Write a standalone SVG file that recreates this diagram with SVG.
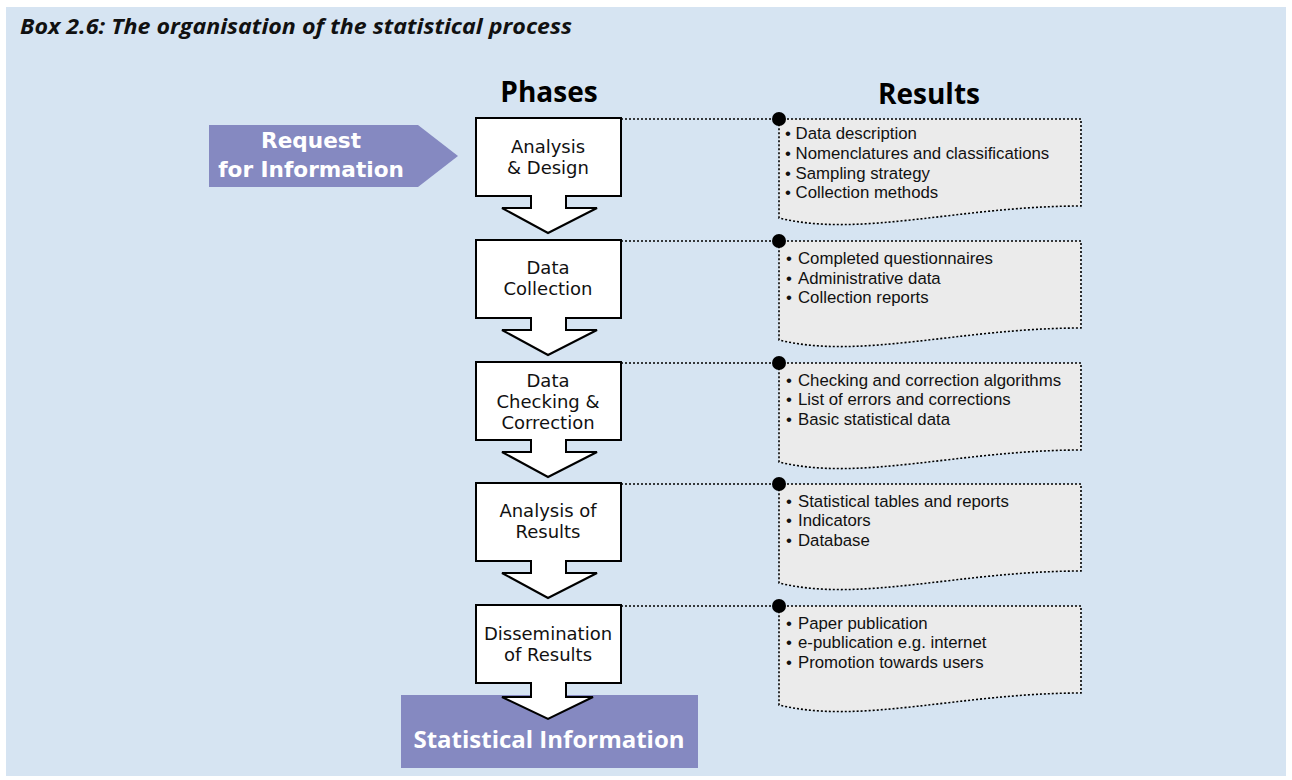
<svg xmlns="http://www.w3.org/2000/svg" width="1292" height="780" viewBox="0 0 1292 780">
  <defs>
    <style>
      .title { font-family: "Open Sans", "Liberation Sans", sans-serif; font-weight: bold; font-style: italic; font-size: 22px; fill: #111; }
      .head { font-family: "Open Sans", "Liberation Sans", sans-serif; font-weight: bold; font-size: 28px; fill: #000; text-anchor: middle; }
      .band { font-family: "Open Sans", "Liberation Sans", sans-serif; font-weight: bold; font-size: 24px; fill: #fff; text-anchor: middle; }
      .band2 { font-family: "DejaVu Sans", "Liberation Sans", sans-serif; font-weight: bold; font-size: 21.6px; fill: #fff; text-anchor: middle; }
      .phase-shape { fill: #fff; stroke: #000; stroke-width: 2; stroke-linejoin: miter; }
      .phase-text { font-family: "DejaVu Sans", "Liberation Sans", sans-serif; font-size: 18px; fill: #111; text-anchor: middle; }
      .result-shape { fill: #ebebeb; stroke: #000; stroke-width: 1.6; stroke-dasharray: 2 2; }
      .result-text { font-family: "Liberation Sans", Arial, sans-serif; font-size: 16.8px; fill: #111; }
      .link { stroke: #000; stroke-width: 1.6; stroke-dasharray: 2 2; fill: none; }
      .dot { fill: #000; }
    </style>
  </defs>

  <!-- panel -->
  <rect x="0" y="0" width="1292" height="780" fill="#ffffff"/>
  <rect x="6" y="7" width="1280" height="769" fill="#d6e4f2"/>

  <text class="title" x="20" y="34" textLength="552" lengthAdjust="spacingAndGlyphs">Box 2.6: The organisation of the statistical process</text>

  <text class="head" x="549" y="102">Phases</text>
  <text class="head" x="929" y="104">Results</text>

  <!-- input arrow -->
  <g id="request">
    <polygon points="209,125 418,125 458,156 418,187 209,187" fill="#8589c1"/>
    <text class="band2" x="311" y="148">Request</text>
    <text class="band2" x="311" y="177">for Information</text>
  </g>

  <!-- output band -->
  <g id="statistical-information">
    <rect x="401" y="695" width="297" height="73" fill="#8589c1"/>
    <text class="band" x="549" y="748">Statistical Information</text>
  </g>

  <!-- connectors from phases to results -->
  <g id="connectors">
    <line class="link" x1="621" y1="119" x2="779" y2="119"/>
    <line class="link" x1="621" y1="241" x2="779" y2="241"/>
    <line class="link" x1="621" y1="363" x2="779" y2="363"/>
    <line class="link" x1="621" y1="484" x2="779" y2="484"/>
    <line class="link" x1="621" y1="606" x2="779" y2="606"/>
  </g>

  <!-- phases -->
  <g id="phase-analysis-design">
    <polygon class="phase-shape" points="476,118 621,118 621,196 566,196 566,208 597,208 548,233 502,208 531,208 531,196 476,196"/>
    <text class="phase-text" x="548" y="153">Analysis</text>
    <text class="phase-text" x="548" y="174">&amp; Design</text>
  </g>
  <g id="phase-data-collection">
    <polygon class="phase-shape" points="476,240 621,240 621,318 566,318 566,330 597,330 548,355 502,330 531,330 531,318 476,318"/>
    <text class="phase-text" x="548" y="274">Data</text>
    <text class="phase-text" x="548" y="295">Collection</text>
  </g>
  <g id="phase-data-checking">
    <polygon class="phase-shape" points="476,362 621,362 621,440 566,440 566,452 597,452 548,477 502,452 531,452 531,440 476,440"/>
    <text class="phase-text" x="548" y="387">Data</text>
    <text class="phase-text" x="548" y="408">Checking &amp;</text>
    <text class="phase-text" x="548" y="429">Correction</text>
  </g>
  <g id="phase-analysis-results">
    <polygon class="phase-shape" points="476,483 621,483 621,561 566,561 566,573 597,573 548,598 502,573 531,573 531,561 476,561"/>
    <text class="phase-text" x="548" y="517">Analysis of</text>
    <text class="phase-text" x="548" y="538">Results</text>
  </g>
  <g id="phase-dissemination">
    <polygon class="phase-shape" points="476,605 621,605 621,683 566,683 566,697 593,697 548,719 502,697 531,697 531,683 476,683"/>
    <text class="phase-text" x="548" y="640">Dissemination</text>
    <text class="phase-text" x="548" y="661">of Results</text>
  </g>

  <!-- results -->
  <g id="result-analysis-design">
    <path class="result-shape" d="M779,119 H1081 V206 C960,206 860,238 779,218 Z"/>
    <circle class="dot" cx="779" cy="119" r="7"/>
    <text class="result-text" x="785" y="139">• Data description</text>
    <text class="result-text" x="785" y="159">• Nomenclatures and classifications</text>
    <text class="result-text" x="785" y="179">• Sampling strategy</text>
    <text class="result-text" x="785" y="198">• Collection methods</text>
  </g>
  <g id="result-data-collection">
    <path class="result-shape" d="M779,241 H1081 V328 C960,328 860,360 779,340 Z"/>
    <circle class="dot" cx="779" cy="241" r="7"/>
    <text class="result-text" y="264"><tspan x="786">•</tspan><tspan x="798">Completed questionnaires</tspan></text>
    <text class="result-text" y="284"><tspan x="786">•</tspan><tspan x="798">Administrative data</tspan></text>
    <text class="result-text" y="303"><tspan x="786">•</tspan><tspan x="798">Collection reports</tspan></text>
  </g>
  <g id="result-data-checking">
    <path class="result-shape" d="M779,363 H1081 V450 C960,450 860,482 779,462 Z"/>
    <circle class="dot" cx="779" cy="363" r="7"/>
    <text class="result-text" y="386"><tspan x="786">•</tspan><tspan x="798">Checking and correction algorithms</tspan></text>
    <text class="result-text" y="405"><tspan x="786">•</tspan><tspan x="798">List of errors and corrections</tspan></text>
    <text class="result-text" y="425"><tspan x="786">•</tspan><tspan x="798">Basic statistical data</tspan></text>
  </g>
  <g id="result-analysis-results">
    <path class="result-shape" d="M779,484 H1081 V571 C960,571 860,603 779,583 Z"/>
    <circle class="dot" cx="779" cy="484" r="7"/>
    <text class="result-text" y="507"><tspan x="786">•</tspan><tspan x="798">Statistical tables and reports</tspan></text>
    <text class="result-text" y="526"><tspan x="786">•</tspan><tspan x="798">Indicators</tspan></text>
    <text class="result-text" y="546"><tspan x="786">•</tspan><tspan x="798">Database</tspan></text>
  </g>
  <g id="result-dissemination">
    <path class="result-shape" d="M779,606 H1081 V693 C960,693 860,725 779,705 Z"/>
    <circle class="dot" cx="779" cy="606" r="7"/>
    <text class="result-text" y="629"><tspan x="786">•</tspan><tspan x="798">Paper publication</tspan></text>
    <text class="result-text" y="648"><tspan x="786">•</tspan><tspan x="798">e-publication e.g. internet</tspan></text>
    <text class="result-text" y="668"><tspan x="786">•</tspan><tspan x="798">Promotion towards users</tspan></text>
  </g>
</svg>
